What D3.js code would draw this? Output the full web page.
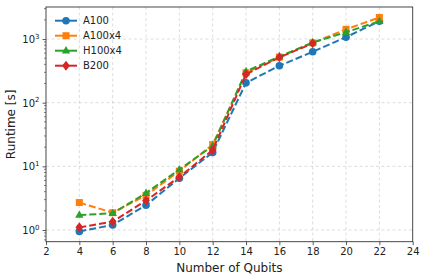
<!DOCTYPE html>
<html>
<head>
<meta charset="utf-8">
<script src="https://cdn.jsdelivr.net/npm/d3@7"></script>
<style>
  body { margin: 0; background: #fff; }
  text { font-family: "DejaVu Sans", sans-serif; fill: #222; }
</style>
</head>
<body>
<div id="chart"></div>
<script>
// Datos del gráfico
const qubits = [4, 6, 8, 10, 12, 14, 16, 18, 20, 22];
const a100 = [0.95, 1.2, 2.45, 6.5, 16.5, 205, 380, 630, 1070, 1900];
const a100x4 = [2.7, 1.87, 3.5, 8.4, 22, 295, 520, 870, 1420, 2180];
const h100x4 = [1.72, 1.83, 3.8, 8.9, 21, 310, 530, 880, 1280, 1900];
const b200 = [1.1, 1.35, 2.9, 6.8, 18, 280, 515, 855];
const seriesNames = ['A100', 'A100x4', 'H100x4', 'B200'];
const xTicks = [2, 4, 6, 8, 10, 12, 14, 16, 18, 20, 22, 24];
const yTicks = [1, 10, 100, 1000];

const width = 425, height = 280;
const margin = { top: 7, right: 12.3, bottom: 38.3, left: 46 };

const series = [
  { name: seriesNames[0], values: a100, color: '#1f77b4', marker: 'circle' },
  { name: seriesNames[1], values: a100x4, color: '#ff7f0e', marker: 'square' },
  { name: seriesNames[2], values: h100x4, color: '#2ca02c', marker: 'triangle' },
  { name: seriesNames[3], values: b200, color: '#d62728', marker: 'diamond' }
];

const svg = d3.select('#chart').append('svg')
  .attr('width', width)
  .attr('height', height);

const x = d3.scaleLinear().domain([2, 24]).range([margin.left, width - margin.right]);
const y = d3.scaleLog().domain([0.655, 3185]).range([height - margin.bottom, margin.top]);

// --- Rejilla ---
const grid = svg.append('g')
  .attr('stroke', '#b0b0b0')
  .attr('stroke-opacity', 0.55)
  .attr('stroke-width', 0.8)
  .attr('stroke-dasharray', '3,2.5');
grid.selectAll('line.vx').data(xTicks.slice(1, -1)).join('line')
  .attr('x1', d => x(d)).attr('x2', d => x(d))
  .attr('y1', margin.top).attr('y2', height - margin.bottom);
grid.selectAll('line.hy').data(yTicks).join('line')
  .attr('x1', margin.left).attr('x2', width - margin.right)
  .attr('y1', d => y(d)).attr('y2', d => y(d));

// --- Ejes ---
const xAxis = svg.append('g')
  .attr('transform', `translate(0,${height - margin.bottom})`)
  .call(d3.axisBottom(x).tickValues(xTicks).tickSize(3.5).tickPadding(3).tickFormat(d3.format('d')));
xAxis.select('.domain').remove();
xAxis.selectAll('line').attr('stroke', '#333').attr('stroke-width', 0.8);
xAxis.selectAll('text').attr('font-size', '10px').attr('font-family', 'DejaVu Sans').attr('fill', '#222');

const minorTicks = [];
for (let e = -1; e <= 3; e++) {
  for (let m = 2; m <= 9; m++) {
    const v = m * Math.pow(10, e);
    if (v > 0.655 && v < 3185) minorTicks.push(v);
  }
}
const yAxis = svg.append('g')
  .attr('transform', `translate(${margin.left},0)`)
  .call(d3.axisLeft(y).tickValues(yTicks).tickSize(3.5).tickPadding(3).tickFormat(''));
yAxis.select('.domain').remove();
yAxis.selectAll('line').attr('stroke', '#333').attr('stroke-width', 0.8);
yAxis.selectAll('.tick').append('text')
  .attr('x', -6.5).attr('dy', '0.35em')
  .attr('text-anchor', 'end')
  .attr('font-size', '10px')
  .attr('fill', '#222')
  .each(function (d) {
    const t = d3.select(this);
    t.append('tspan').text('10');
    t.append('tspan').attr('font-size', '7px').attr('dy', '-0.6em').text(String(Math.round(Math.log10(d))));
  });
svg.append('g').selectAll('line').data(minorTicks).join('line')
  .attr('x1', margin.left - 2).attr('x2', margin.left)
  .attr('y1', d => y(d)).attr('y2', d => y(d))
  .attr('stroke', '#333').attr('stroke-width', 0.6);

// Marco
svg.append('rect')
  .attr('x', margin.left).attr('y', margin.top)
  .attr('width', width - margin.left - margin.right)
  .attr('height', height - margin.top - margin.bottom)
  .attr('fill', 'none').attr('stroke', '#333').attr('stroke-width', 0.9);

// Etiquetas de ejes
svg.append('text')
  .attr('x', x(13)).attr('y', 272)
  .attr('text-anchor', 'middle')
  .attr('font-size', '12px')
  .text('Number of Qubits');
svg.append('text')
  .attr('transform', `translate(15,${(margin.top + height - margin.bottom) / 2}) rotate(-90)`)
  .attr('text-anchor', 'middle')
  .attr('font-size', '12px')
  .text('Runtime [s]');

// --- Marcadores ---
function drawMarker(sel, type, color) {
  if (type === 'circle') {
    sel.append('circle').attr('r', 3.8).attr('fill', color);
  } else if (type === 'square') {
    sel.append('rect').attr('x', -3.5).attr('y', -3.5).attr('width', 7).attr('height', 7).attr('fill', color);
  } else if (type === 'triangle') {
    sel.append('path').attr('d', 'M0,-4.6L4.2,2.8L-4.2,2.8Z').attr('fill', color);
  } else {
    sel.append('path').attr('d', 'M0,-5L3.9,0L0,5L-3.9,0Z').attr('fill', color);
  }
}

const line = d3.line().x((d, i) => x(qubits[i])).y(d => y(d));
series.forEach(s => {
  const g = svg.append('g');
  g.append('path')
    .datum(s.values)
    .attr('fill', 'none')
    .attr('stroke', s.color)
    .attr('stroke-width', 2)
    .attr('stroke-dasharray', '7,3')
    .attr('d', line);
  g.selectAll('g').data(s.values).join('g')
    .attr('transform', (d, i) => `translate(${x(qubits[i])},${y(d)})`)
    .each(function () { drawMarker(d3.select(this), s.marker, s.color); });
});

// --- Leyenda ---
const legend = svg.append('g').attr('transform', 'translate(55,20.7)');
series.forEach((s, i) => {
  const row = legend.append('g').attr('transform', `translate(0,${i * 15})`);
  row.append('line')
    .attr('x1', 0).attr('x2', 22).attr('y1', 0).attr('y2', 0)
    .attr('stroke', s.color).attr('stroke-width', 2);
  const m = row.append('g').attr('transform', 'translate(11,0)');
  drawMarker(m, s.marker, s.color);
  row.append('text')
    .attr('x', 28).attr('dy', '0.35em')
    .attr('font-size', '10px')
    .text(s.name);
});
</script>
</body>
</html>
